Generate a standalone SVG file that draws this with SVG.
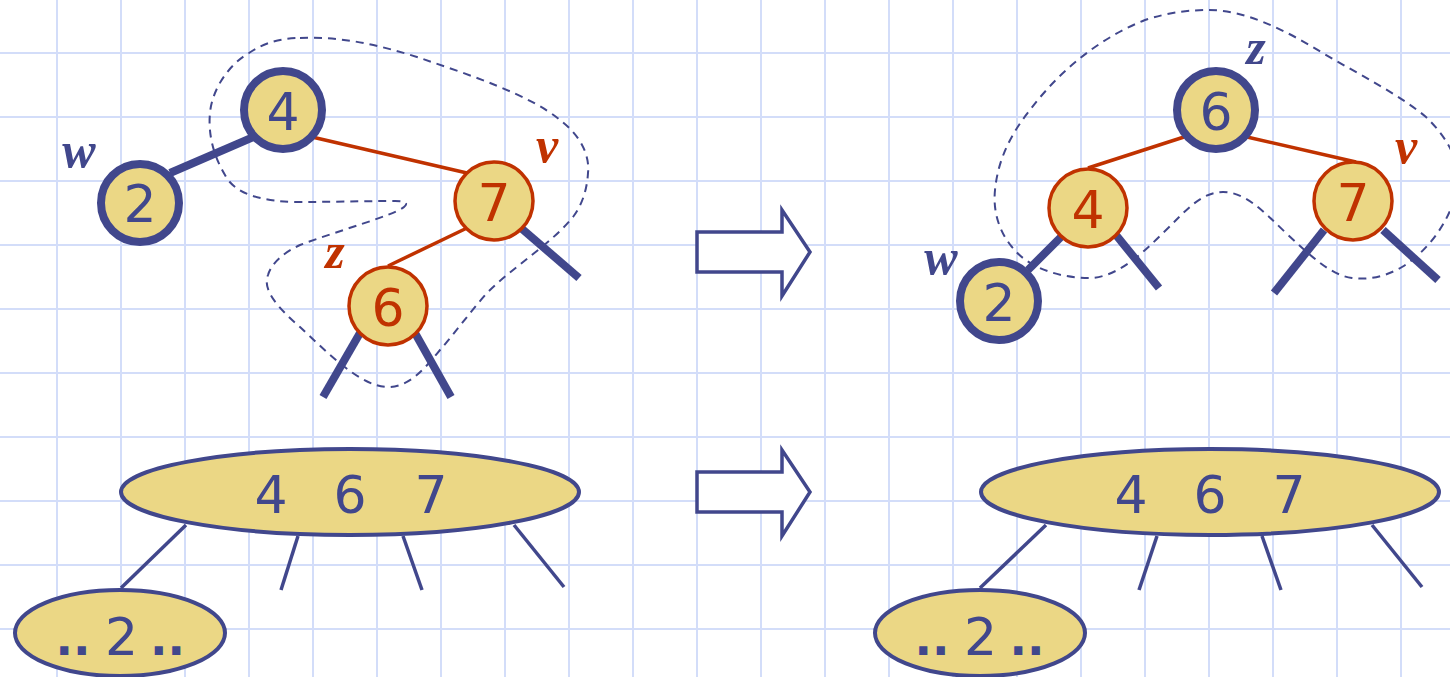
<svg xmlns="http://www.w3.org/2000/svg" width="1450" height="677" viewBox="0 0 1450 677">
<style>
.grid line{stroke:#d3ddf9;stroke-width:2}
.bn{fill:#ebd785;stroke:#41478c;stroke-width:8}
.rn{fill:#ebd785;stroke:#c03200;stroke-width:3.5}
.bt{font-family:"DejaVu Sans",Verdana,sans-serif;font-size:52px;fill:#41478c;text-anchor:middle}
.dt{font-family:"DejaVu Sans",Verdana,sans-serif;font-size:46px;font-weight:bold;fill:#41478c;text-anchor:middle}
.rt{font-family:"DejaVu Sans",Verdana,sans-serif;font-size:52px;fill:#c03200;text-anchor:middle}
.lb{font-family:"Liberation Serif","Times New Roman",serif;font-style:italic;font-weight:bold;font-size:50px;text-anchor:middle}
.thick{stroke:#41478c;stroke-width:8;fill:none}
.red{stroke:#c03200;stroke-width:3.5;fill:none}
.thin{stroke:#41478c;stroke-width:3.5;fill:none}
.dash{stroke:#41478c;stroke-width:2;stroke-dasharray:8 6;fill:none}
.ell{fill:#ebd785;stroke:#41478c;stroke-width:4}
.arr{fill:#fff;stroke:#41478c;stroke-width:3.5;stroke-linejoin:miter}
</style>
<rect width="1450" height="677" fill="#fff"/>
<g class="grid">
<line x1="57" y1="0" x2="57" y2="677"/><line x1="121" y1="0" x2="121" y2="677"/><line x1="185" y1="0" x2="185" y2="677"/><line x1="249" y1="0" x2="249" y2="677"/><line x1="313" y1="0" x2="313" y2="677"/><line x1="377" y1="0" x2="377" y2="677"/><line x1="441" y1="0" x2="441" y2="677"/><line x1="505" y1="0" x2="505" y2="677"/><line x1="569" y1="0" x2="569" y2="677"/><line x1="633" y1="0" x2="633" y2="677"/><line x1="697" y1="0" x2="697" y2="677"/><line x1="761" y1="0" x2="761" y2="677"/><line x1="825" y1="0" x2="825" y2="677"/><line x1="889" y1="0" x2="889" y2="677"/><line x1="953" y1="0" x2="953" y2="677"/><line x1="1017" y1="0" x2="1017" y2="677"/><line x1="1081" y1="0" x2="1081" y2="677"/><line x1="1145" y1="0" x2="1145" y2="677"/><line x1="1209" y1="0" x2="1209" y2="677"/><line x1="1273" y1="0" x2="1273" y2="677"/><line x1="1337" y1="0" x2="1337" y2="677"/><line x1="1401" y1="0" x2="1401" y2="677"/>
<line x1="0" y1="53" x2="1450" y2="53"/><line x1="0" y1="117" x2="1450" y2="117"/><line x1="0" y1="181" x2="1450" y2="181"/><line x1="0" y1="245" x2="1450" y2="245"/><line x1="0" y1="309" x2="1450" y2="309"/><line x1="0" y1="373" x2="1450" y2="373"/><line x1="0" y1="437" x2="1450" y2="437"/><line x1="0" y1="501" x2="1450" y2="501"/><line x1="0" y1="565" x2="1450" y2="565"/><line x1="0" y1="629" x2="1450" y2="629"/>
</g>
<g id="regions">
<path class="dash" d="M300 38 C340 36 380 45 420 58 C470 75 530 95 560 120 C580 135 590 155 588 173 C587 190 582 205 573 217 C550 245 515 265 487 293 C470 312 455 333 440 350 C425 368 410 387 388 387 C360 387 325 350 300 327 C278 308 262 290 268 275 C272 262 285 252 300 245 C340 230 395 215 404 207 C410 202 402 201 395 201 C360 201 330 202 300 202 C265 202 235 195 225 175 C213 155 208 133 210 113 C212 90 228 65 249 53 C265 42 283 38 300 38 Z"/>
<path class="dash" d="M1209 10 C1245 10 1285 30 1321 52 C1360 75 1400 95 1426 117 C1445 135 1460 160 1458 180 C1455 215 1430 250 1402 267 C1385 277 1368 280 1352 278 C1330 275 1310 255 1286 233 C1262 210 1245 192 1223 192 C1200 192 1185 212 1163 233 C1140 256 1115 278 1089 278 C1060 278 1028 268 1012 247 C998 230 993 210 995 190 C998 160 1010 135 1030 110 C1060 70 1100 38 1145 20 C1170 12 1190 10 1209 10 Z"/>
</g>
<g id="connectors">
<line class="thick" x1="170" y1="173" x2="256" y2="136"/>
<line class="red" x1="312" y1="137" x2="467" y2="173"/>
<line class="red" x1="467" y1="228" x2="388" y2="266"/>
<line class="thick" x1="521" y1="228" x2="579" y2="278"/>
<line class="thick" x1="360" y1="333" x2="323" y2="397"/>
<line class="thick" x1="415" y1="333" x2="451" y2="397"/>
<line class="red" x1="1184" y1="137" x2="1088" y2="168"/>
<line class="red" x1="1247" y1="137" x2="1356" y2="162"/>
<line class="thick" x1="1061" y1="237" x2="1028" y2="270"/>
<line class="thick" x1="1116" y1="235" x2="1159" y2="288"/>
<line class="thick" x1="1324" y1="230" x2="1274" y2="293"/>
<line class="thick" x1="1383" y1="230" x2="1438" y2="280"/>
<line class="thin" x1="186" y1="525" x2="121" y2="588"/>
<line class="thin" x1="298" y1="536" x2="281" y2="590"/>
<line class="thin" x1="403" y1="536" x2="422" y2="590"/>
<line class="thin" x1="514" y1="525" x2="564" y2="587"/>
<line class="thin" x1="1046" y1="525" x2="980" y2="588"/>
<line class="thin" x1="1157" y1="536" x2="1139" y2="590"/>
<line class="thin" x1="1262" y1="536" x2="1281" y2="590"/>
<line class="thin" x1="1372" y1="525" x2="1422" y2="587"/>
</g>
<g id="arrow1"><path class="arr" d="M697 232 H782 V210 L810 252 L782 296 V272 H697 Z"/></g>
<g id="arrow2"><path class="arr" d="M697 472 H782 V450 L810 492 L782 536 V512 H697 Z"/></g>
<g id="L4"><circle class="bn" cx="283" cy="110" r="39"/><text class="bt" x="283" y="130">4</text></g>
<g id="L2"><circle class="bn" cx="140" cy="203" r="39"/><text class="bt" x="140" y="222">2</text><text class="lb" x="79" y="167" fill="#41478c">w</text></g>
<g id="L7"><circle class="rn" cx="494" cy="201" r="39"/><text class="rt" x="494" y="221">7</text><text class="lb" x="547" y="162" fill="#c03200">v</text></g>
<g id="L6"><circle class="rn" cx="388" cy="306" r="39"/><text class="rt" x="388" y="326">6</text><text class="lb" x="335" y="268" fill="#c03200">z</text></g>
<g id="R6"><circle class="bn" cx="1216" cy="110" r="39"/><text class="bt" x="1216" y="130">6</text><text class="lb" x="1256" y="64" fill="#41478c">z</text></g>
<g id="R4"><circle class="rn" cx="1088" cy="208" r="39"/><text class="rt" x="1088" y="228">4</text></g>
<g id="R7"><circle class="rn" cx="1353" cy="201" r="39"/><text class="rt" x="1353" y="221">7</text><text class="lb" x="1406" y="163" fill="#c03200">v</text></g>
<g id="R2"><circle class="bn" cx="999" cy="301" r="39"/><text class="bt" x="999" y="321">2</text><text class="lb" x="941" y="274" fill="#41478c">w</text></g>
<g id="LB"><ellipse class="ell" cx="350" cy="492" rx="229" ry="43"/><text class="bt" y="513"><tspan x="271">4</tspan><tspan x="350">6</tspan><tspan x="431">7</tspan></text></g>
<g id="LS"><ellipse class="ell" cx="120" cy="633" rx="105" ry="43"/><text class="bt" y="655"><tspan class="dt" x="73">..</tspan><tspan x="121.5">2</tspan><tspan class="dt" x="167.5">..</tspan></text></g>
<g id="RB"><ellipse class="ell" cx="1210" cy="492" rx="229" ry="43"/><text class="bt" y="513"><tspan x="1131">4</tspan><tspan x="1210">6</tspan><tspan x="1289">7</tspan></text></g>
<g id="RS"><ellipse class="ell" cx="980" cy="633" rx="105" ry="43"/><text class="bt" y="655"><tspan class="dt" x="932">..</tspan><tspan x="980.5">2</tspan><tspan class="dt" x="1027">..</tspan></text></g>
</svg>
